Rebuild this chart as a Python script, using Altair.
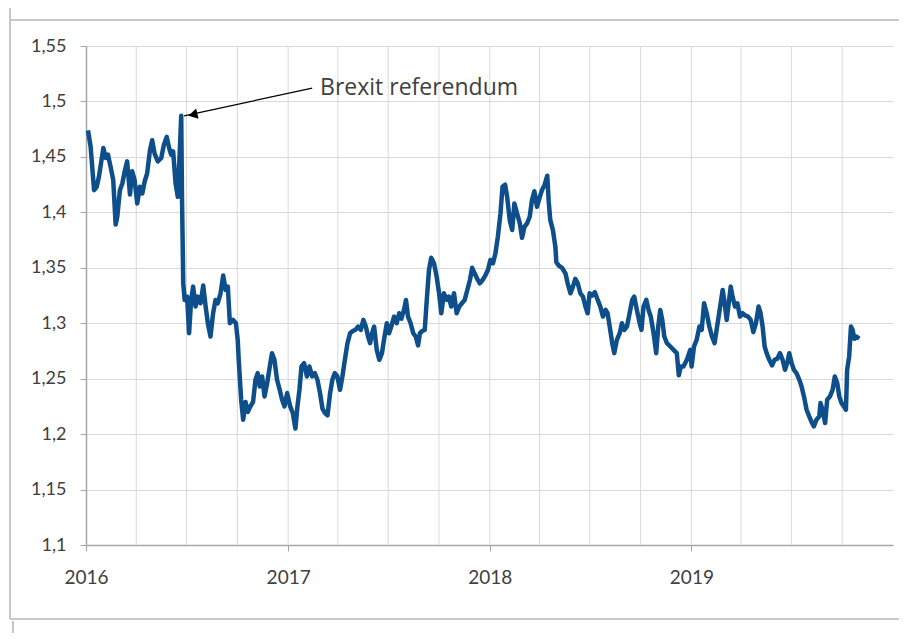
import altair as alt
import pandas as pd

year_frac = [
    2016.010, 2016.023, 2016.040, 2016.053, 2016.064, 2016.086, 2016.098, 2016.109, 2016.122, 2016.135,
    2016.147, 2016.155, 2016.168, 2016.180, 2016.192, 2016.204, 2016.218, 2016.229, 2016.241, 2016.254,
    2016.267, 2016.279, 2016.291, 2016.303, 2016.317, 2016.328, 2016.340, 2016.356, 2016.373, 2016.386,
    2016.400, 2016.412, 2016.422, 2016.432, 2016.444, 2016.455, 2016.465, 2016.472, 2016.476, 2016.482,
    2016.489, 2016.501, 2016.511, 2016.521, 2016.531, 2016.543, 2016.554, 2016.568, 2016.581, 2016.593,
    2016.604, 2016.617, 2016.630, 2016.642, 2016.653, 2016.667, 2016.680, 2016.692, 2016.703, 2016.713,
    2016.729, 2016.743, 2016.752, 2016.757, 2016.769, 2016.779, 2016.791, 2016.802, 2016.815, 2016.828,
    2016.840, 2016.851, 2016.861, 2016.873, 2016.885, 2016.898, 2016.911, 2016.922, 2016.934, 2016.947,
    2016.960, 2016.972, 2016.984, 2016.997, 2017.010, 2017.023, 2017.036, 2017.046, 2017.056, 2017.066,
    2017.079, 2017.093, 2017.105, 2017.119, 2017.132, 2017.145, 2017.158, 2017.170, 2017.182, 2017.195,
    2017.208, 2017.219, 2017.231, 2017.244, 2017.257, 2017.269, 2017.281, 2017.294, 2017.307, 2017.320,
    2017.333, 2017.347, 2017.360, 2017.373, 2017.385, 2017.396, 2017.406, 2017.416, 2017.426, 2017.439,
    2017.452, 2017.465, 2017.475, 2017.489, 2017.500, 2017.511, 2017.525, 2017.538, 2017.550, 2017.561,
    2017.574, 2017.584, 2017.594, 2017.607, 2017.620, 2017.632, 2017.644, 2017.653, 2017.665, 2017.677,
    2017.687, 2017.698, 2017.709, 2017.723, 2017.736, 2017.748, 2017.759, 2017.772, 2017.786, 2017.797,
    2017.808, 2017.822, 2017.835, 2017.848, 2017.861, 2017.875, 2017.888, 2017.901, 2017.912, 2017.924,
    2017.937, 2017.950, 2017.964, 2017.977, 2017.990, 2018.003, 2018.016, 2018.028, 2018.040, 2018.053,
    2018.063, 2018.076, 2018.086, 2018.099, 2018.111, 2018.122, 2018.135, 2018.149, 2018.160, 2018.172,
    2018.185, 2018.198, 2018.209, 2018.221, 2018.234, 2018.248, 2018.259, 2018.272, 2018.285, 2018.292,
    2018.300, 2018.313, 2018.325, 2018.330, 2018.342, 2018.358, 2018.375, 2018.386, 2018.400, 2018.412,
    2018.424, 2018.436, 2018.449, 2018.462, 2018.474, 2018.485, 2018.495, 2018.508, 2018.521, 2018.535,
    2018.548, 2018.561, 2018.574, 2018.584, 2018.597, 2018.607, 2018.617, 2018.630, 2018.644, 2018.655,
    2018.667, 2018.680, 2018.693, 2018.706, 2018.716, 2018.729, 2018.743, 2018.752, 2018.762, 2018.776,
    2018.787, 2018.798, 2018.812, 2018.825, 2018.835, 2018.845, 2018.855, 2018.865, 2018.878, 2018.895,
    2018.911, 2018.927, 2018.937, 2018.947, 2018.960, 2018.977, 2018.994, 2019.001, 2019.013, 2019.026,
    2019.040, 2019.051, 2019.063, 2019.076, 2019.089, 2019.102, 2019.115, 2019.125, 2019.135, 2019.145,
    2019.155, 2019.165, 2019.175, 2019.185, 2019.195, 2019.204, 2019.216, 2019.228, 2019.241, 2019.254,
    2019.267, 2019.281, 2019.294, 2019.307, 2019.320, 2019.333, 2019.343, 2019.353, 2019.363, 2019.373,
    2019.386, 2019.400, 2019.412, 2019.426, 2019.439, 2019.452, 2019.464, 2019.475, 2019.485, 2019.497,
    2019.508, 2019.521, 2019.535, 2019.546, 2019.558, 2019.571, 2019.584, 2019.598, 2019.607, 2019.620,
    2019.634, 2019.640, 2019.650, 2019.663, 2019.673, 2019.687, 2019.700, 2019.711, 2019.723, 2019.733,
    2019.744, 2019.756, 2019.766, 2019.772, 2019.782, 2019.791, 2019.799, 2019.808, 2019.818, 2019.832,
]

# GBP/USD rate
rate = [
    1.474, 1.459, 1.420, 1.423, 1.432, 1.458, 1.449, 1.452, 1.441, 1.429,
    1.389, 1.396, 1.420, 1.426, 1.437, 1.446, 1.416, 1.437, 1.429, 1.408,
    1.423, 1.417, 1.428, 1.435, 1.456, 1.465, 1.453, 1.446, 1.449, 1.461,
    1.468, 1.458, 1.452, 1.455, 1.426, 1.414, 1.456, 1.487, 1.411, 1.336,
    1.321, 1.324, 1.291, 1.321, 1.333, 1.315, 1.324, 1.318, 1.334, 1.315,
    1.300, 1.288, 1.309, 1.321, 1.318, 1.327, 1.343, 1.330, 1.333, 1.300,
    1.303, 1.300, 1.285, 1.267, 1.231, 1.213, 1.229, 1.220, 1.225, 1.229,
    1.249, 1.255, 1.243, 1.252, 1.234, 1.246, 1.261, 1.273, 1.267, 1.249,
    1.240, 1.231, 1.225, 1.237, 1.225, 1.219, 1.205, 1.225, 1.240, 1.261,
    1.264, 1.252, 1.261, 1.252, 1.255, 1.249, 1.237, 1.223, 1.219, 1.217,
    1.237, 1.249, 1.255, 1.252, 1.240, 1.252, 1.267, 1.282, 1.291, 1.293,
    1.294, 1.297, 1.294, 1.303, 1.297, 1.288, 1.282, 1.291, 1.297, 1.276,
    1.267, 1.273, 1.285, 1.300, 1.291, 1.297, 1.306, 1.300, 1.309, 1.304,
    1.312, 1.321, 1.306, 1.300, 1.291, 1.288, 1.280, 1.291, 1.293, 1.294,
    1.321, 1.348, 1.359, 1.354, 1.342, 1.327, 1.309, 1.327, 1.321, 1.324,
    1.315, 1.327, 1.309, 1.315, 1.318, 1.321, 1.330, 1.339, 1.350, 1.345,
    1.340, 1.336, 1.339, 1.343, 1.348, 1.357, 1.354, 1.363, 1.378, 1.399,
    1.423, 1.425, 1.414, 1.393, 1.384, 1.408, 1.399, 1.390, 1.377, 1.387,
    1.390, 1.396, 1.411, 1.419, 1.405, 1.414, 1.420, 1.425, 1.433, 1.410,
    1.393, 1.384, 1.369, 1.355, 1.352, 1.350, 1.345, 1.336, 1.327, 1.333,
    1.340, 1.336, 1.327, 1.324, 1.315, 1.309, 1.327, 1.325, 1.328, 1.321,
    1.315, 1.306, 1.312, 1.309, 1.294, 1.282, 1.273, 1.285, 1.291, 1.300,
    1.294, 1.297, 1.309, 1.321, 1.324, 1.312, 1.300, 1.294, 1.315, 1.321,
    1.312, 1.306, 1.291, 1.273, 1.297, 1.312, 1.303, 1.288, 1.282, 1.279,
    1.276, 1.273, 1.253, 1.261, 1.261, 1.267, 1.276, 1.261, 1.279, 1.285,
    1.297, 1.294, 1.318, 1.309, 1.297, 1.288, 1.282, 1.294, 1.306, 1.318,
    1.330, 1.318, 1.303, 1.318, 1.333, 1.324, 1.315, 1.318, 1.306, 1.309,
    1.307, 1.306, 1.303, 1.292, 1.300, 1.315, 1.309, 1.297, 1.279, 1.273,
    1.267, 1.262, 1.267, 1.268, 1.273, 1.267, 1.258, 1.264, 1.273, 1.264,
    1.258, 1.255, 1.249, 1.243, 1.234, 1.222, 1.216, 1.210, 1.207, 1.213,
    1.216, 1.228, 1.222, 1.210, 1.231, 1.234, 1.240, 1.252, 1.246, 1.234,
    1.228, 1.225, 1.222, 1.258, 1.270, 1.297, 1.294, 1.286, 1.288, 1.286,
]

tick_years = [2016, 2017, 2018, 2019]
quarter_grid = [
    "2016-04-01", "2016-07-01", "2016-10-01", "2017-01-01",
    "2017-04-01", "2017-07-01", "2017-10-01", "2018-01-01",
    "2018-04-01", "2018-07-01", "2018-10-01", "2019-01-01",
    "2019-04-01", "2019-07-01", "2019-10-01",
]
y_ticks = [1.1, 1.15, 1.2, 1.25, 1.3, 1.35, 1.4, 1.45, 1.5, 1.55]

annot_text = ["Brexit referendum"]
annot_text_at = [2017.158]
annot_text_val = [1.512]
arrow_tail = [2017.119, 1.512]
arrow_tip = [2016.486, 1.487]
arrow_head = [2016.530, 1.488]


def to_date(y):
    y = pd.Series(y, dtype=float)
    base = pd.to_datetime(y.astype(int).astype(str) + "-01-01")
    return base + pd.to_timedelta((y - y.astype(int)) * 365.25, unit="D")


df = pd.DataFrame({"date": to_date(year_frac), "rate": rate})
grid_df = pd.DataFrame({"date": pd.to_datetime(quarter_grid)})
arrow_df = pd.DataFrame({
    "date": to_date([arrow_tail[0]]), "rate": [arrow_tail[1]],
    "date2": to_date([arrow_tip[0]]), "rate2": [arrow_tip[1]],
})
head_df = pd.DataFrame({"date": to_date([arrow_head[0]]), "rate": [arrow_head[1]]})
text_df = pd.DataFrame({"date": to_date(annot_text_at), "rate": annot_text_val, "label": annot_text})

FONT = "Lato"
TXT = "#404040"

x_scale = alt.Scale(domain=[alt.DateTime(year=2016, month=1, date=1),
                            alt.DateTime(year=2020, month=1, date=1)], nice=False)
y_scale = alt.Scale(domain=[1.1, 1.55], nice=False, zero=False)

x_axis = alt.Axis(values=[alt.DateTime(year=y, month=1, date=1) for y in tick_years],
                  format="%Y", grid=False, tickSize=6,
                  tickColor="#a6a6a6", domainColor="#a6a6a6", domainWidth=1.5,
                  labelFont=FONT, labelFontSize=19, labelColor=TXT, labelPadding=17,
                  labelAlign="center", title=None)
y_axis = alt.Axis(values=y_ticks, grid=True, gridColor="#d9d9d9", tickSize=6,
                  tickColor="#a6a6a6", domainColor="#a6a6a6", domainWidth=1.5,
                  labelFont=FONT, labelFontSize=18, labelColor=TXT, labelPadding=14,
                  labelExpr="replace(format(datum.value, '.2~f'), '.', ',')", title=None)

grid = alt.Chart(grid_df).mark_rule(color="#d9d9d9", strokeWidth=1).encode(
    x=alt.X("date:T", scale=x_scale, axis=x_axis),
)

line = alt.Chart(df).mark_line(color="#0e4f8b", strokeWidth=4.5, strokeJoin="round").encode(
    x=alt.X("date:T", scale=x_scale, axis=x_axis),
    y=alt.Y("rate:Q", scale=y_scale, axis=y_axis),
)

arrow = alt.Chart(arrow_df).mark_rule(color="#000000", strokeWidth=1.2).encode(
    x="date:T", y="rate:Q", x2="date2:T", y2="rate2:Q",
)
head = alt.Chart(head_df).mark_point(shape="triangle-left", filled=True, color="#000000",
                                     size=110, angle=347, opacity=1).encode(
    x="date:T", y="rate:Q",
)
label = alt.Chart(text_df).mark_text(align="left", baseline="middle", font="Open Sans", fontSize=23,
                                     color=TXT).encode(
    x="date:T", y="rate:Q", text="label:N",
)

# Excel chart-area frame lines around the plot
frame_style = dict(color="#c8c8c8", strokeWidth=2)
frame_left = alt.Chart(grid_df).mark_rule(**frame_style).encode(
    x=alt.value(-76), y=alt.value(-60), y2=alt.value(573))
frame_top = alt.Chart(grid_df).mark_rule(**frame_style).encode(
    x=alt.value(-76), x2=alt.value(830), y=alt.value(-26))
frame_bottom = alt.Chart(grid_df).mark_rule(**frame_style).encode(
    x=alt.value(-76), x2=alt.value(830), y=alt.value(573))
frame_left2 = alt.Chart(grid_df).mark_rule(**frame_style).encode(
    x=alt.value(-73), y=alt.value(575), y2=alt.value(620))

chart = alt.layer(grid, line, arrow, head, label, frame_left, frame_top, frame_bottom, frame_left2).properties(
    width=807, height=499,
    autosize=alt.AutoSizeParams(type="none"),
    padding={"left": 78, "top": 38, "right": 6, "bottom": 88},
    background="white",
).configure_view(stroke=None)

chart.save("out.html", embed_options={"renderer": "svg", "actions": False})
